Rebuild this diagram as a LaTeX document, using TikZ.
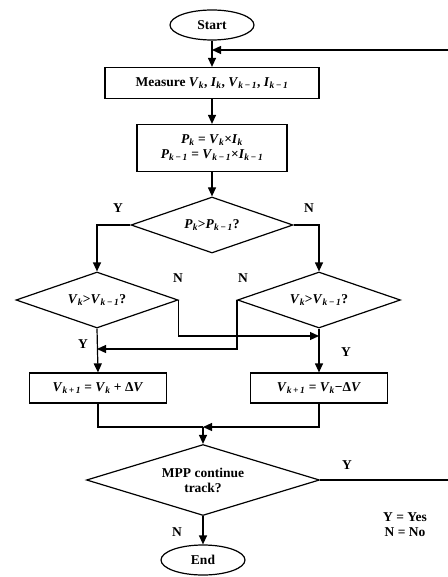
\documentclass[tikz,border=0pt]{standalone}
\usepackage{fontspec}
\setmainfont{Liberation Serif}
\usetikzlibrary{shapes.geometric,arrows.meta}

% variable with subscript, italic
\newcommand{\vk}[2]{\textit{#1}\textsubscript{\textit{#2}}}

\tikzset{
  flow/.style={line width=1.2pt},
  arr/.style={flow, -{Triangle[length=9pt,width=8pt]}},
  terminal/.style={ellipse, draw, line width=1.2pt, minimum width=84pt, minimum height=30pt, inner sep=0pt},
  process/.style={rectangle, draw, line width=1.2pt, inner sep=2pt, align=center},
  decision/.style={diamond, draw, line width=1.2pt, inner sep=0pt, aspect=3, align=center}
}

\begin{document}
\begin{tikzpicture}[x=1pt, y=-1pt, font=\fontsize{13.5}{15}\selectfont\bfseries]
  \useasboundingbox (0,0) rectangle (447,577);

  % blocks
  \node[terminal] (start) at (212,25) {Start};
  \node[process, minimum width=214pt, minimum height=31pt] (meas) at (212,83)
    {Measure \vk{V}{k}, \vk{I}{k}, \vk{V}{k\,−\,1}, \vk{I}{k\,−\,1}};
  \node[process, minimum width=150pt, minimum height=47pt] (pow) at (212,148)
    {\vk{P}{k} = \vk{V}{k}×\vk{I}{k}\\ \vk{P}{k\,−\,1} = \vk{V}{k\,−\,1}×\vk{I}{k\,−\,1}};
  \node[decision, minimum width=162pt, minimum height=56pt] (dp) at (212,225)
    {\vk{P}{k}>\vk{P}{k\,−\,1}?};
  \node[decision, minimum width=162pt, minimum height=56pt] (dvl) at (97,300)
    {\vk{V}{k}>\vk{V}{k\,−\,1}?};
  \node[decision, minimum width=163pt, minimum height=56pt] (dvr) at (319,300)
    {\vk{V}{k}>\vk{V}{k\,−\,1}?};
  \node[process, minimum width=137pt, minimum height=30pt] (inc) at (98,388)
    {\vk{V}{k\,+\,1} = \vk{V}{k} + Δ\textit{V}};
  \node[process, minimum width=137pt, minimum height=30pt] (dec) at (319,388)
    {\vk{V}{k\,+\,1} = \vk{V}{k}−Δ\textit{V}};
  \node[decision, minimum width=233pt, minimum height=71pt] (mpp) at (203,480)
    {MPP continue\\track?};
  \node[terminal] (end) at (203,560) {End};
  \node[align=center] (key) at (405,525) {Y = Yes\\N = No};

  % junction points
  \coordinate (jr) at (319,336);
  \coordinate (jl) at (97,349);
  \coordinate (merge) at (203,427);
  \coordinate (loopr) at (452,480);
  \coordinate (loopin) at (212,50);

  % connectors
  \draw[arr] (start) -- (meas);
  \draw[arr] (meas) -- (pow);
  \draw[arr] (pow) -- (dp);
  \draw[arr] (dp.west) -| (dvl.north);
  \draw[arr] (dp.east) -| (dvr.north);
  \draw[arr] (dvl.east) |- (jr);
  \draw[arr] (dvr.west) |- (jl);
  \draw[arr] (dvl.south) -- (inc.north);
  \draw[arr] (dvr.south) -- (dec.north);
  \draw[flow] (inc.south) |- (merge);
  \draw[arr] (dec.south) |- (merge);
  \draw[arr] (merge) -- (mpp.north);
  \draw[arr] (mpp.south) -- (end);
  \draw[arr] (mpp.east) -- (loopr) |- (loopin);

  % branch labels
  \node (y1) at (118,208) {Y};
  \node (n1) at (309,208) {N};
  \node (n2) at (178,278) {N};
  \node (n3) at (243,278) {N};
  \node (y2) at (83,344) {Y};
  \node (y3) at (346,352) {Y};
  \node (y4) at (347,465) {Y};
  \node (n4) at (177,532) {N};
\end{tikzpicture}
\end{document}
